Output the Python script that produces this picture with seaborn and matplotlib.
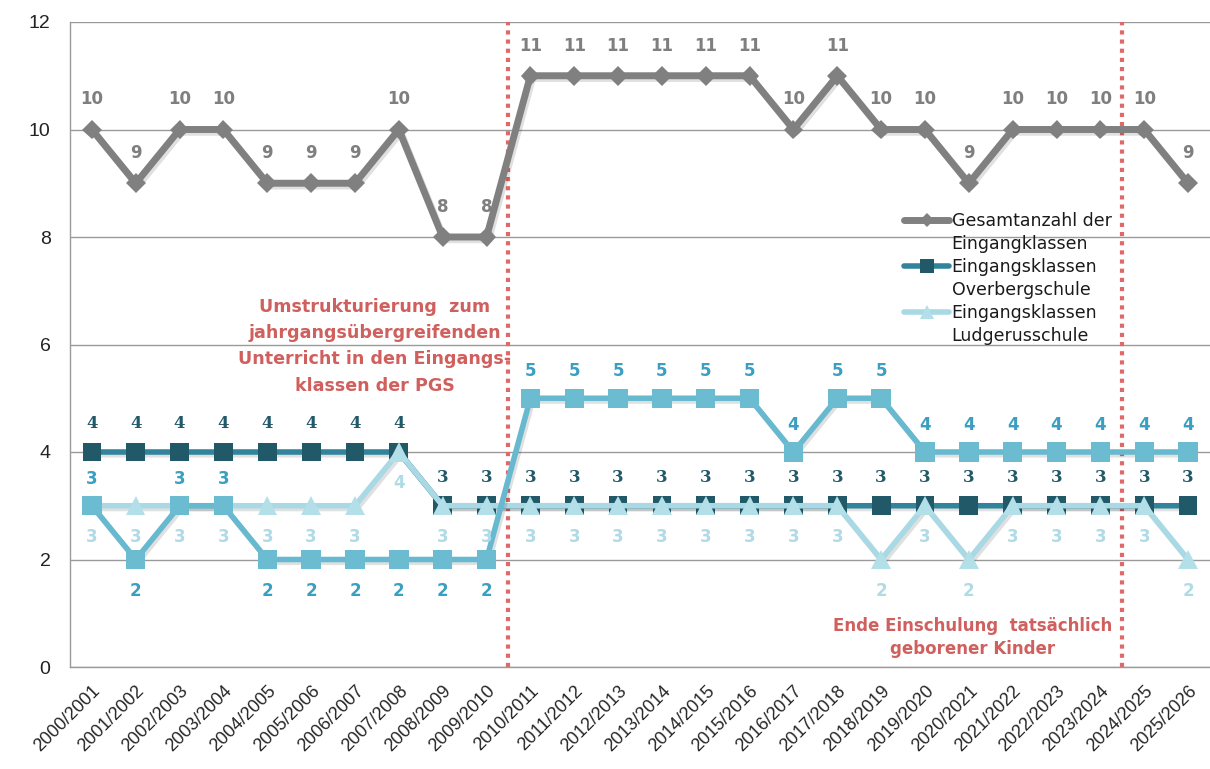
import matplotlib
matplotlib.use("Agg")
import matplotlib.pyplot as plt
import matplotlib.patheffects as pe
import seaborn as sns
import pandas as pd
from matplotlib.lines import Line2D

years = ["2000/2001", "2001/2002", "2002/2003", "2003/2004", "2004/2005", "2005/2006",
         "2006/2007", "2007/2008", "2008/2009", "2009/2010", "2010/2011", "2011/2012",
         "2012/2013", "2013/2014", "2014/2015", "2015/2016", "2016/2017", "2017/2018",
         "2018/2019", "2019/2020", "2020/2021", "2021/2022", "2022/2023", "2023/2024",
         "2024/2025", "2025/2026"]
gesamt = [10, 9, 10, 10, 9, 9, 9, 10, 8, 8, 11, 11, 11, 11, 11, 11, 10, 11, 10, 10, 9, 10, 10, 10, 10, 9]
overberg = [4, 4, 4, 4, 4, 4, 4, 4, 3, 3, 3, 3, 3, 3, 3, 3, 3, 3, 3, 3, 3, 3, 3, 3, 3, 3]
weitere = [3, 2, 3, 3, 2, 2, 2, 2, 2, 2, 5, 5, 5, 5, 5, 5, 4, 5, 5, 4, 4, 4, 4, 4, 4, 4]
ludgerus = [3, 3, 3, 3, 3, 3, 3, 4, 3, 3, 3, 3, 3, 3, 3, 3, 3, 3, 2, 3, 2, 3, 3, 3, 3, 2]

legend_lines = ["Gesamtanzahl der", "Eingangklassen", "Eingangsklassen", "Overbergschule",
                "Eingangsklassen", "Ludgerusschule"]
note1 = "Umstrukturierung  zum\njahrgangsübergreifenden\nUnterricht in den Eingangs-\nklassen der PGS"
note2 = "Ende Einschulung  tatsächlich\ngeborener Kinder"

sns.set_style("white")
plt.rcParams["font.family"] = ["Liberation Sans", "DejaVu Sans"]

fig = plt.figure(figsize=(12.1, 7.69), dpi=100)
ax = fig.add_axes([70 / 1210, 102 / 769, 1140 / 1210, 645 / 769])

x = list(range(len(years)))
df = pd.DataFrame({"x": x, "gesamt": gesamt, "overberg": overberg,
                   "weitere": weitere, "ludgerus": ludgerus})

shadow = [pe.SimpleLineShadow(offset=(1.5, -2), shadow_color="k", alpha=0.12), pe.Normal()]

GRAY, DLINE, DMARK = "#808080", "#31849b", "#215968"
LLINE, LMARK, MCOL = "#a8d9e5", "#b3dfe9", "#67b9cf"

sns.lineplot(data=df, x="x", y="gesamt", ax=ax, color=GRAY, lw=5,
             marker="D", markersize=10, markeredgewidth=0, markerfacecolor=GRAY,
             zorder=3, legend=False)
sns.lineplot(data=df, x="x", y="overberg", ax=ax, color=DLINE, lw=4,
             marker="s", markersize=13.5, markeredgewidth=0, markerfacecolor=DMARK,
             zorder=4, legend=False)
sns.lineplot(data=df, x="x", y="ludgerus", ax=ax, color=LLINE, lw=4,
             marker="^", markersize=14, markeredgewidth=0, markerfacecolor=LMARK,
             zorder=5, legend=False)
sns.lineplot(data=df, x="x", y="weitere", ax=ax, color=MCOL, lw=4,
             marker="s", markersize=14, markeredgewidth=0, markerfacecolor="#6bbcd1",
             zorder=6, legend=False)

for ln in ax.get_lines():
    ln.set_path_effects(shadow)

lab_kw = dict(textcoords="offset pixels", ha="center", va="center", fontsize=12,
              fontweight="bold", zorder=8)
for i in x:
    ax.annotate(str(gesamt[i]), (i, gesamt[i]), xytext=(0, 30), color="#7f7f7f",
                family=["DejaVu Sans"], **lab_kw)
    ax.annotate(str(overberg[i]), (i, overberg[i]), xytext=(0, 28), color=DMARK,
                family=["DejaVu Serif"], **lab_kw)
    ax.annotate(str(ludgerus[i]), (i, ludgerus[i]), xytext=(0, -31), color="#b0dbe6",
                family=["DejaVu Sans"], **lab_kw)
    off = 27 if weitere[i] > 2 else -31
    ax.annotate(str(weitere[i]), (i, weitere[i]), xytext=(0, off), color="#3a9fc0",
                family=["DejaVu Sans"], **lab_kw)

for xv in (9.5, 23.5):
    ax.axvline(xv, color="#e06868", lw=3, ls=(0, (1, 1.2)), zorder=2)

ax.text(6.45, 5.97, note1, ha="center", va="center", color="#d0605e", fontsize=12.6,
        fontweight="bold", linespacing=1.6, zorder=9, family=["DejaVu Sans"])
ax.text(20.09, 0.55, note2, ha="center", va="center", color="#d0605e", fontsize=12,
        fontweight="bold", linespacing=1.35, zorder=9, family=["DejaVu Sans"])

ax.set_xlim(-0.5, 25.35)
ax.set_ylim(0, 12)
ax.set_yticks(range(0, 13, 2))
ax.yaxis.grid(True, color="#9a9a9a", lw=1)
ax.set_axisbelow(True)
ax.set_xticks(x)
ax.set_xticklabels(years, rotation=45, ha="right", rotation_mode="anchor", fontsize=13)
ax.set_xticks([i - 0.5 for i in range(len(years) + 1)], minor=True)
ax.tick_params(axis="x", which="major", length=0, pad=11)
ax.tick_params(axis="x", which="minor", length=6, color="#9a9a9a", width=1)
ax.tick_params(axis="y", length=6, color="#9a9a9a", width=1, labelsize=14, pad=8)
for lab in ax.get_yticklabels():
    lab.set_color("#222222")
ax.set_xlabel("")
ax.set_ylabel("")
for s in ["top", "right"]:
    ax.spines[s].set_visible(False)
for s in ["left", "bottom"]:
    ax.spines[s].set_color("#9a9a9a")
    ax.spines[s].set_linewidth(1)

blank = Line2D([], [], lw=0, marker=None)
handles = [
    Line2D([], [], color=GRAY, lw=5, marker="D", markersize=7, markeredgewidth=0),
    blank,
    Line2D([], [], color=DLINE, lw=4, marker="s", markersize=10, markeredgewidth=0,
           markerfacecolor=DMARK),
    blank,
    Line2D([], [], color=LLINE, lw=4, marker="^", markersize=10, markeredgewidth=0,
           markerfacecolor=LMARK),
    blank,
]
leg = fig.legend(handles, legend_lines, loc="upper left",
                 bbox_to_anchor=(904 / 1210, 1 - 212 / 769), frameon=False,
                 prop={"family": "DejaVu Sans", "size": 12.5},
                 handlelength=2.6, handletextpad=0.15, labelspacing=0.29,
                 borderpad=0, borderaxespad=0)
for t in leg.get_texts():
    t.set_color("#1a1a1a")

fig.savefig("out.png", dpi=100)
